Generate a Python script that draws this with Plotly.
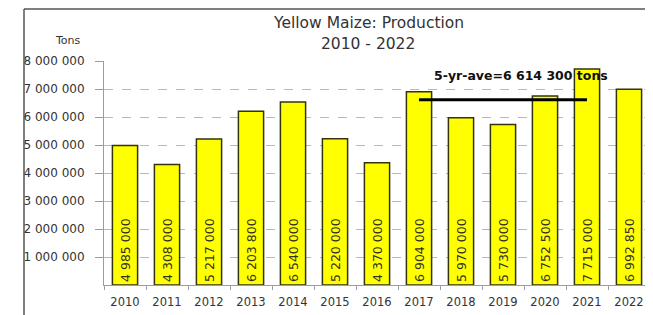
import plotly.graph_objects as go

years = ["2010", "2011", "2012", "2013", "2014", "2015", "2016",
         "2017", "2018", "2019", "2020", "2021", "2022"]
production = [4985000, 4308000, 5217000, 6203800, 6540000, 5220000, 4370000,
              6904000, 5970000, 5730000, 6752500, 7715000, 6992850]
avg_value = 6614300
avg_years = ["2017", "2021"]
avg_label = "5-yr-ave=6 614 300 tons"
ytick_vals = [1000000, 2000000, 3000000, 4000000, 5000000, 6000000, 7000000, 8000000]
ytick_text = ["1 000 000", "2 000 000", "3 000 000", "4 000 000",
              "5 000 000", "6 000 000", "7 000 000", "8 000 000"]

def fmt(v):
    return f"{v:,}".replace(",", " ")

FONT = "DejaVu Sans"
OFF = 8  # page body margin
W, H = 653 - OFF, 315 - OFF
# plot area in reference pixel coords: x 104..650, y 61..285
ML = 104 - OFF
MR = W - (650 - OFF)
MT = 61 - OFF
MB = H - (285 - OFF)

pw = W - ML - MR
ph = H - MT - MB

def px_x(x):
    return (x - OFF - ML) / pw

def px_y(y):
    return (H - MB - (y - OFF)) / ph

fig = go.Figure()
fig.add_trace(go.Bar(
    x=years, y=production,
    width=0.6,
    marker=dict(color="#FFFF00", line=dict(color="#333310", width=1.5)),
    text=[fmt(v) for v in production],
    textposition="inside",
    insidetextanchor="start",
    textangle=-90,
    textfont=dict(family=FONT, size=12.5, color="#333320"),
    cliponaxis=False,
))
fig.add_trace(go.Scatter(
    x=avg_years, y=[avg_value, avg_value],
    mode="lines", line=dict(color="#000000", width=3),
    hoverinfo="skip",
))

fig.update_layout(
    width=W, height=H,
    margin=dict(l=ML, r=MR, t=MT, b=MB),
    paper_bgcolor="white", plot_bgcolor="white",
    showlegend=False,
    font=dict(family=FONT, color="#333333"),
    xaxis=dict(
        type="category", range=[-0.5, 12.5],
        showgrid=False,
        showline=True, linecolor="#9a9aa8", linewidth=1,
        ticks="outside", tickson="boundaries", ticklen=4, tickcolor="#9a9aa8",
        ticklabelstandoff=6,
        tickfont=dict(family=FONT, size=11.5, color="#333333"),
    ),
    yaxis=dict(
        range=[0, 8000000],
        tickvals=ytick_vals, ticktext=ytick_text,
        showgrid=True, gridcolor="#b8b8b8", griddash="dash", gridwidth=1,
        showline=True, linecolor="#9a9aa8", linewidth=1,
        ticks="outside", ticklen=8, tickcolor="#9a9aa8",
        ticklabelstandoff=8,
        tickfont=dict(family=FONT, size=12, color="#333333"),
        zeroline=False,
    ),
    annotations=[
        dict(text="Yellow Maize: Production", xref="paper", yref="paper",
             x=px_x(368), y=px_y(23), xanchor="center", yanchor="middle",
             showarrow=False,
             font=dict(family=FONT, size=15.5, color="#333333")),
        dict(text="2010 - 2022", xref="paper", yref="paper",
             x=px_x(368), y=px_y(44), xanchor="center", yanchor="middle",
             showarrow=False,
             font=dict(family=FONT, size=15.5, color="#333333")),
        dict(text="Tons", xref="paper", yref="paper",
             x=px_x(68), y=px_y(40), xanchor="center", yanchor="middle",
             showarrow=False,
             font=dict(family=FONT, size=11, color="#333333")),
        dict(text="<b>" + avg_label + "</b>", xref="x", yref="y",
             x=9.44, y=7500000, xanchor="center", yanchor="middle",
             showarrow=False,
             font=dict(family=FONT, size=12.5, color="#111111")),
    ],
    shapes=[
        dict(type="line", xref="paper", yref="paper",
             x0=px_x(24), x1=px_x(660), y0=px_y(9), y1=px_y(9),
             line=dict(color="#555555", width=1.5)),
        dict(type="line", xref="paper", yref="paper",
             x0=px_x(24), x1=px_x(24), y0=px_y(9), y1=px_y(320),
             line=dict(color="#555555", width=1.5)),
    ],
)

fig.write_html("out.html")
